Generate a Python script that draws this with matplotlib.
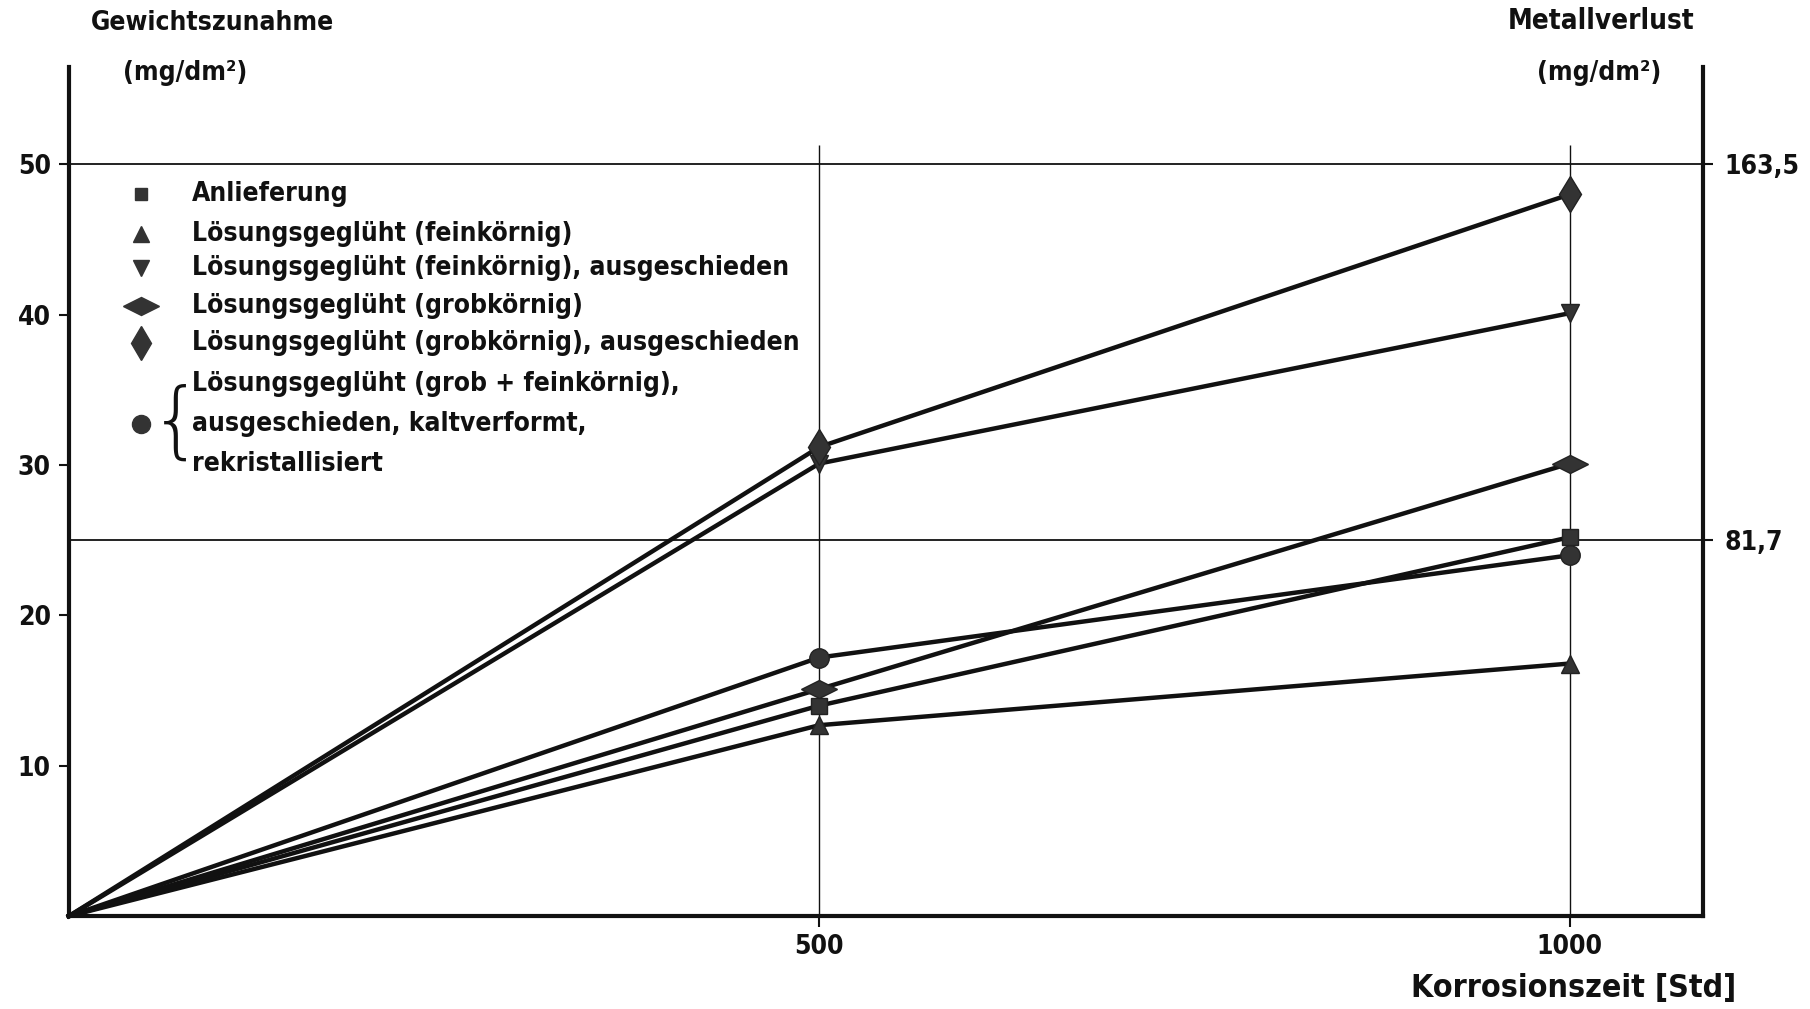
import matplotlib
matplotlib.use('Agg')
import matplotlib.pyplot as plt
from matplotlib.markers import MarkerStyle
from matplotlib.transforms import Affine2D

plt.rcParams['font.family'] = ['DejaVu Sans']
plt.rcParams['font.stretch'] = 'condensed'
plt.rcParams['font.weight'] = 'bold'

# Korrosionszeit [Std]
zeit = [0, 500, 1000]

# Gewichtszunahme (mg/dm2) per Zustand
anlieferung = [0, 14.0, 25.2]
fein = [0, 12.7, 16.8]
fein_aus = [0, 30.1, 40.1]
grob = [0, 15.1, 30.1]
grob_aus = [0, 31.2, 48.0]
grob_fein = [0, 17.2, 24.0]

labels = ['Anlieferung',
          'Lösungsgeglüht (feinkörnig)',
          'Lösungsgeglüht (feinkörnig), ausgeschieden',
          'Lösungsgeglüht (grobkörnig)',
          'Lösungsgeglüht (grobkörnig), ausgeschieden']
label_multi = ['Lösungsgeglüht (grob + feinkörnig),',
               'ausgeschieden, kaltverformt,',
               'rekristallisiert']

right_ticks = [25, 50]
right_labels = ['81,7', '163,5']

hdiamond = MarkerStyle('d', transform=Affine2D().rotate_deg(90).scale(1.2, 1.0))
series = [
    (anlieferung, 's', 11),
    (fein, '^', 13),
    (fein_aus, 'v', 13),
    (grob, hdiamond, 15),
    (grob_aus, 'd', 18),
    (grob_fein, 'o', 14),
]

fig = plt.figure(figsize=(18.1, 10.09), dpi=100)
ax = fig.add_axes([0.038, 0.092, 0.903, 0.842])
ax.set_xlim(0, 1089)
ax.set_ylim(0, 56.5)

ink = '#111111'
for vals, m, ms in series:
    ax.plot(zeit, vals, color=ink, lw=3.2, marker=m, markersize=ms,
            markevery=[1, 2], markerfacecolor='#333333',
            markeredgecolor='#222222', zorder=3, clip_on=False)

# grid lines
for yv in [25, 50]:
    ax.axhline(yv, color=ink, lw=1.3, zorder=1)
ax.vlines([500, 1000], 0, 51.3, color=ink, lw=1.0, zorder=1)

for s in ['left', 'right', 'bottom']:
    ax.spines[s].set_linewidth(3)
    ax.spines[s].set_color(ink)
ax.spines['top'].set_visible(False)

ax.set_xticks([500, 1000])
ax.set_xticklabels(['500', '1000'])
ax.set_yticks([10, 20, 30, 40, 50])
ax.tick_params(axis='x', length=8, width=1.5, labelsize=19, pad=5, colors=ink)
ax.tick_params(axis='y', length=7, width=1.5, labelsize=19, pad=6, colors=ink)

ax2 = ax.twinx()
ax2.set_ylim(ax.get_ylim())
ax2.set_yticks(right_ticks)
ax2.set_yticklabels(right_labels)
ax2.tick_params(axis='y', length=7, width=1.5, labelsize=19, pad=8, colors=ink)
for s in ax2.spines.values():
    s.set_visible(False)

# legend drawn as text
legend_y = [48.0, 45.4, 43.1, 40.6, 38.1]
legend_ms = [9, 12, 12, 15, 17]
for (vals, m, ms), lab, yy, lms in zip(series[:5], labels, legend_y, legend_ms):
    ax.plot([48], [yy], marker=m, markersize=lms, color='#333333',
            linestyle='none')
    ax.text(82, yy, lab, fontsize=19, va='center', ha='left', color=ink)
multi_y = [35.4, 32.7, 30.1]
for lab, yy in zip(label_multi, multi_y):
    ax.text(82, yy, lab, fontsize=19, va='center', ha='left', color=ink)
ax.plot([48], [32.7], marker='o', markersize=13, color='#333333', linestyle='none')
ax.text(72, 32.7, '{', fontsize=60, va='center', ha='center', color=ink,
        fontweight='light', fontstretch='normal')

# axis titles
fig.text(0.05, 0.977, 'Gewichtszunahme', fontsize=19, ha='left', va='center', color=ink)
fig.text(0.068, 0.928, '(mg/dm²)', fontsize=19, ha='left', va='center', color=ink)
fig.text(0.936, 0.979, 'Metallverlust', fontsize=20, ha='right', va='center', color=ink)
fig.text(0.918, 0.928, '(mg/dm²)', fontsize=19, ha='right', va='center', color=ink)
fig.text(0.959, 0.02, 'Korrosionszeit [Std]', fontsize=23, ha='right', va='center', color=ink)

fig.savefig('out.png', dpi=100)
